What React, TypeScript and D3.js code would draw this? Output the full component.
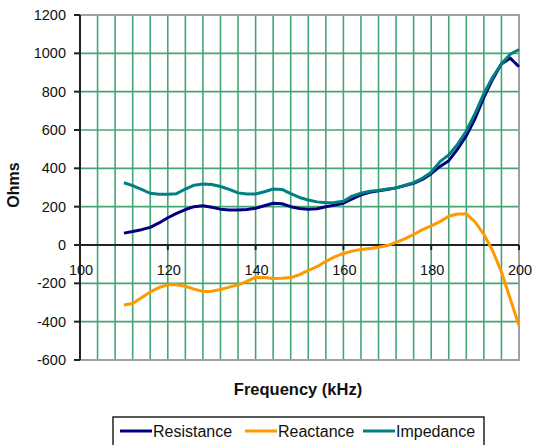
import * as d3 from "d3";
import { useEffect, useRef } from "react";

// frequency (kHz) sample points
const freqs = [
  110, 112, 114, 116, 118, 120, 122, 124, 126, 128, 130, 132, 134, 136, 138, 140,
  142, 144, 146, 148, 150, 152, 154, 156, 158, 160, 162, 164, 166, 168, 170, 172,
  174, 176, 178, 180, 182, 184, 186, 188, 190, 192, 194, 196, 198, 200,
];

const resistance = [
  62, 70, 80, 92, 115, 142, 165, 185, 200, 205, 197, 187, 183, 182, 185, 192,
  205, 218, 215, 200, 190, 186, 189, 200, 208, 218, 240, 262, 275, 283, 290, 298,
  310, 322, 342, 372, 410, 440, 500, 570, 660, 770, 865, 945, 975, 930,
];

const reactance = [
  -313, -305, -275, -245, -222, -208, -208, -215, -230, -242, -241, -232, -220, -208, -190, -168,
  -170, -175, -174, -170, -155, -132, -113, -85, -62, -44, -32, -24, -18, -12, -3, 14,
  32, 55, 80, 100, 122, 150, 162, 162, 120, 55, -30, -140, -280, -420,
];

const impedance = [
  325, 310, 290, 270, 265, 265, 268, 292, 312, 318, 316, 305, 290, 272, 266, 266,
  278, 292, 290, 268, 248, 235, 225, 221, 222, 228, 255, 270, 280, 285, 292, 298,
  312, 325, 348, 380, 435, 470, 525, 595, 687, 790, 875, 945, 995, 1020,
];

const seriesNames = ["Resistance", "Reactance", "Impedance"];
const seriesColors = ["#000080", "#ff9900", "#008080"];

const xLabels = [100, 120, 140, 160, 180, 200];
const yTicks = [-600, -400, -200, 0, 200, 400, 600, 800, 1000, 1200];

const W = 534;
const H = 445;
const plot = { left: 80, right: 519, top: 15, bottom: 360 };

const Chart = () => {
  const svgRef = useRef(null);

  useEffect(() => {
    const svg = d3.select(svgRef.current);
    svg.selectAll("*").remove();

    const x = d3.scaleLinear().domain([100, 200]).range([plot.left, plot.right]);
    const y = d3.scaleLinear().domain([-600, 1200]).range([plot.bottom, plot.top]);
    const font = "'Liberation Sans', Arial, sans-serif";

    // gridlines: every 4 kHz, every 200 ohms
    const grid = svg.append("g").attr("stroke", "#44a674").attr("stroke-width", 1.6);
    d3.range(104, 200, 4).forEach((f) => {
      grid.append("line")
        .attr("x1", x(f)).attr("x2", x(f))
        .attr("y1", plot.top).attr("y2", plot.bottom);
    });
    yTicks.filter((t) => t !== 0 && t !== 1200 && t !== -600).forEach((t) => {
      grid.append("line")
        .attr("x1", plot.left).attr("x2", plot.right)
        .attr("y1", y(t)).attr("y2", y(t));
    });

    // plot border (gray)
    svg.append("path")
      .attr("d", `M${plot.left},${plot.top}H${plot.right}V${plot.bottom}H${plot.left}`)
      .attr("fill", "none")
      .attr("stroke", "#a0a0a0")
      .attr("stroke-width", 2);

    // y axis
    const yAxis = svg.append("g");
    yAxis.append("line")
      .attr("x1", plot.left).attr("x2", plot.left)
      .attr("y1", plot.top).attr("y2", plot.bottom)
      .attr("stroke", "#222").attr("stroke-width", 2);
    yTicks.forEach((t) => {
      yAxis.append("line")
        .attr("x1", plot.left - 6).attr("x2", plot.left)
        .attr("y1", y(t)).attr("y2", y(t))
        .attr("stroke", "#222").attr("stroke-width", 2);
      yAxis.append("text")
        .attr("x", 66).attr("y", y(t) + 5)
        .attr("text-anchor", "end")
        .attr("font-family", font).attr("font-size", 14.5)
        .attr("fill", "#111")
        .text(t);
    });

    // x axis along zero
    const xAxis = svg.append("g");
    xAxis.append("line")
      .attr("x1", plot.left).attr("x2", plot.right)
      .attr("y1", y(0)).attr("y2", y(0))
      .attr("stroke", "#222").attr("stroke-width", 2);
    xLabels.forEach((f) => {
      xAxis.append("line")
        .attr("x1", x(f)).attr("x2", x(f))
        .attr("y1", y(0)).attr("y2", y(0) + 5)
        .attr("stroke", "#222").attr("stroke-width", 2);
      xAxis.append("text")
        .attr("x", x(f) + 1).attr("y", 275)
        .attr("text-anchor", "middle")
        .attr("font-family", font).attr("font-size", 14.5)
        .attr("fill", "#111")
        .text(f);
    });

    // series lines
    const line = d3.line()
      .x((d, i) => x(freqs[i]))
      .y((d) => y(d));
    [resistance, reactance, impedance].forEach((vals, i) => {
      svg.append("path")
        .datum(vals)
        .attr("fill", "none")
        .attr("stroke", seriesColors[i])
        .attr("stroke-width", 3)
        .attr("stroke-linejoin", "round")
        .attr("d", line);
    });

    // axis titles
    svg.append("text")
      .attr("transform", "translate(19,185) rotate(-90)")
      .attr("text-anchor", "middle")
      .attr("font-family", font).attr("font-size", 16).attr("font-weight", "bold")
      .attr("fill", "#111")
      .text("Ohms");

    svg.append("text")
      .attr("x", 298).attr("y", 395)
      .attr("text-anchor", "middle")
      .attr("font-family", font).attr("font-size", 16.5).attr("font-weight", "bold")
      .attr("fill", "#111")
      .text("Frequency (kHz)");

    // legend
    const legend = svg.append("g");
    legend.append("rect")
      .attr("x", 113).attr("y", 417)
      .attr("width", 371).attr("height", 40)
      .attr("fill", "#fff").attr("stroke", "#222").attr("stroke-width", 1.5);
    const itemX = [120, 245, 363];
    seriesNames.forEach((name, i) => {
      legend.append("line")
        .attr("x1", itemX[i]).attr("x2", itemX[i] + 32)
        .attr("y1", 431).attr("y2", 431)
        .attr("stroke", seriesColors[i]).attr("stroke-width", 3);
      legend.append("text")
        .attr("x", itemX[i] + 33).attr("y", 437)
        .attr("font-family", font).attr("font-size", 16)
        .attr("fill", "#111")
        .text(name);
    });
  }, []);

  return <svg ref={svgRef} width={W} height={H} style={{ display: "block" }} />;
};

export default function App() {
  return (
    <div style={{ position: "fixed", left: 0, top: 0, background: "#fff" }}>
      <Chart />
    </div>
  );
}
